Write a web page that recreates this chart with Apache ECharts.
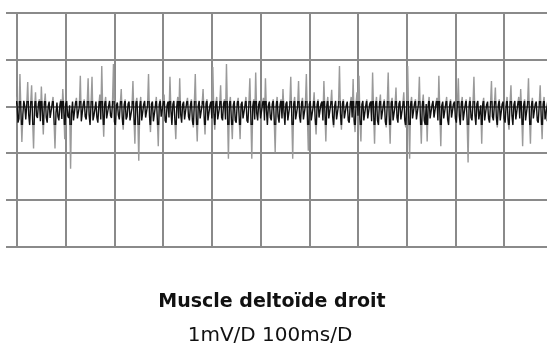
<!DOCTYPE html>
<html>
<head>
<meta charset="utf-8">
<script src="https://cdn.jsdelivr.net/npm/echarts@6/dist/echarts.min.js"></script>
<style>
  html, body { margin: 0; padding: 0; background: #fff; }
  #chart { width: 547px; height: 347px; }
</style>
</head>
<body>
<div id="chart"></div>
<script>
// EMG trace, mV, one sample every 2 ms starting 22 ms before the first division
const startMs = -22
const stepMs = 2
const emg = [
  0.10, -0.05, 0.42, -0.22, -0.69, 0.03, 0.15, -0.30, -0.30, -0.12, 0.20, 0.06, -0.35, -0.26, 0.69, -0.08, -0.76, -0.18, 0.12, 0.00,
  -0.28, 0.02, 0.52, -0.18, -0.40, 0.04, 0.45, -0.28, -0.90, -0.06, 0.30, -0.20, -0.25, 0.05, 0.15, -0.32, 0.42, -0.10, -0.60, 0.04,
  0.27, -0.24, -0.35, 0.00, 0.10, -0.25, -0.28, 0.04, 0.20, -0.30, -0.90, -0.14, 0.08, -0.22, -0.30, 0.02, 0.15, -0.27, 0.37, -0.06,
  -0.70, 0.05, 0.12, -0.20, -0.25, 0.02, -1.33, -0.15, 0.10, -0.30, -0.30, 0.06, 0.18, -0.26, -0.22, 0.00, 0.65, -0.32, -0.35, 0.04,
  0.15, -0.22, -0.28, 0.03, 0.60, -0.18, -0.40, 0.05, 0.63, -0.30, -0.20, -0.05, 0.10, -0.24, -0.35, 0.02, 0.25, -0.28, 0.86, -0.10,
  -0.65, 0.04, 0.20, -0.26, -0.30, 0.00, 0.12, -0.20, -0.25, 0.06, 0.90, -0.32, -0.45, 0.02, 0.08, -0.18, -0.28, 0.05, 0.37, -0.24,
  -0.50, 0.03, 0.15, -0.28, -0.22, 0.05, 0.10, -0.30, -0.30, -0.04, 0.54, -0.22, -0.80, 0.06, 0.18, -0.26, -1.16, 0.00, 0.20, -0.30,
  -0.30, 0.04, 0.12, -0.24, -0.25, 0.02, 0.69, -0.20, -0.55, 0.05, 0.10, -0.32, -0.28, 0.00, 0.20, -0.26, -0.85, 0.03, 0.15, -0.22,
  -0.22, 0.05, 0.25, -0.30, -0.35, 0.02, 0.10, -0.24, 0.63, -0.10, -0.40, 0.04, 0.12, -0.28, -0.70, 0.00, 0.20, -0.26, 0.60, -0.18,
  -0.35, 0.04, 0.10, -0.28, -0.25, 0.06, 0.18, -0.22, -0.30, 0.02, 0.15, -0.30, -0.45, 0.05, 0.69, -0.24, -0.75, 0.00, 0.12, -0.26,
  -0.28, 0.03, 0.37, -0.20, -0.60, 0.05, 0.15, -0.30, -0.30, 0.02, 0.10, -0.26, 0.84, -0.12, -0.50, 0.04, 0.20, -0.28, -0.25, 0.00,
  0.45, -0.24, -0.30, 0.05, 0.15, -0.28, 0.90, -0.10, -1.12, 0.03, 0.20, -0.26, -0.70, 0.02, 0.12, -0.30, -0.35, 0.06, 0.18, -0.22,
  -0.70, 0.04, 0.10, -0.26, -0.28, 0.02, 0.20, -0.30, -0.35, 0.05, 0.60, -0.20, -1.12, 0.00, 0.15, -0.28, 0.72, -0.14, -0.30, 0.03,
  0.12, -0.26, -0.25, 0.05, 0.18, -0.30, 0.60, -0.08, -0.40, 0.02, 0.10, -0.24, -0.30, 0.04, 0.15, -0.28, -0.98, 0.00, 0.20, -0.22,
  -0.35, 0.03, 0.15, -0.26, 0.37, -0.12, -0.40, 0.05, 0.10, -0.30, -0.28, 0.02, 0.63, -0.20, -1.12, 0.04, 0.20, -0.28, -0.30, 0.00,
  0.54, -0.22, -0.35, 0.05, 0.18, -0.28, -0.25, 0.02, 0.69, -0.18, -0.95, 0.04, 0.12, -0.30, -0.30, 0.00, 0.30, -0.26, -0.60, 0.03,
  0.15, -0.24, -0.28, 0.05, 0.10, -0.30, 0.54, -0.10, -0.75, 0.02, 0.20, -0.26, -0.30, 0.04, 0.35, -0.22, -0.45, 0.00, 0.12, -0.28,
  -0.30, 0.03, 0.86, -0.16, -0.50, 0.05, 0.15, -0.26, -0.25, 0.02, 0.10, -0.30, -0.35, 0.04, 0.20, -0.24, 0.58, -0.30, -0.55, 0.06,
  0.30, -0.20, 0.65, -0.28, -0.75, 0.04, 0.12, -0.30, -0.30, 0.02, 0.15, -0.26, -0.28, 0.05, 0.10, -0.32, 0.72, -0.12, -0.80, 0.03,
  0.20, -0.30, -0.40, 0.05, 0.25, -0.28, -0.30, 0.02, 0.15, -0.32, -0.45, 0.04, 0.72, -0.20, -0.80, 0.06, 0.18, -0.30, -0.30, 0.00,
  0.40, -0.24, -0.35, 0.05, 0.12, -0.28, -0.25, 0.02, 0.30, -0.30, -0.45, 0.04, 0.86, -0.18, -1.12, 0.03, 0.20, -0.26, -0.30, 0.05,
  0.15, -0.28, -0.28, 0.04, 0.63, -0.22, -0.80, 0.02, 0.25, -0.30, -0.40, 0.05, -0.75, 0.00, 0.20, -0.26, -0.30, 0.03, 0.12, -0.24,
  -0.25, 0.05, 0.18, -0.30, 0.65, -0.14, -0.85, 0.02, 0.10, -0.26, -0.30, 0.04, 0.20, -0.28, -0.40, 0.00, 0.15, -0.24, -0.28, 0.05,
  0.10, -0.26, -0.35, 0.03, 0.60, -0.20, -0.40, 0.05, 0.20, -0.30, -0.30, 0.02, 0.15, -0.28, -1.20, 0.00, 0.20, -0.24, -0.30, 0.04,
  0.63, -0.18, -0.40, 0.05, 0.12, -0.28, -0.25, 0.02, -0.80, 0.04, 0.18, -0.30, -0.30, 0.03, 0.10, -0.26, -0.35, 0.05, 0.54, -0.22,
  -0.30, 0.04, 0.40, -0.24, -0.45, 0.02, 0.15, -0.30, -0.28, 0.05, 0.10, -0.26, -0.35, 0.00, 0.20, -0.28, -0.50, 0.04, 0.45, -0.20,
  -0.40, 0.03, 0.12, -0.28, -0.30, 0.05, 0.20, -0.26, 0.37, -0.14, -0.85, 0.02, 0.15, -0.30, -0.30, 0.04, 0.60, -0.22, -0.80, 0.00,
  0.18, -0.26, -0.25, 0.05, 0.10, -0.30, -0.35, 0.02, 0.45, -0.20, -0.70, 0.04, 0.20, -0.28, -0.30, 0.00, 0.15, -0.24, -0.28, 0.03
]

const title = 'Muscle deltoïde droit'
const scaleText = '1mV/D 100ms/D'

const gridColor = '#8a8a8a'

const chart = echarts.init(document.getElementById('chart'))

chart.setOption({
  animation: false,
  backgroundColor: '#fff',
  grid: { left: 17, right: 0, top: 12.5, bottom: 100 },
  xAxis: {
    type: 'value',
    min: 0,
    max: 1088,
    interval: 100,
    axisLine: { show: false },
    axisLabel: { show: false },
    axisTick: { show: true, length: 15, lineStyle: { color: gridColor, width: 2 } },
    splitLine: { show: true, showMaxLine: false, lineStyle: { color: gridColor, width: 2 } }
  },
  yAxis: {
    type: 'value',
    min: -3,
    max: 2,
    interval: 1,
    axisLine: { show: false },
    axisLabel: { show: false },
    axisTick: { show: true, length: 11, lineStyle: { color: gridColor, width: 2 } },
    splitLine: { show: true, lineStyle: { color: gridColor, width: 2 } }
  },
  // dark dense core, lighter isolated spikes
  visualMap: {
    show: false,
    type: 'piecewise',
    dimension: 1,
    pieces: [
      { lt: -0.4, color: '#9a9a9a' },
      { gte: -0.4, lte: 0.12, color: '#111' },
      { gt: 0.12, color: '#9a9a9a' }
    ]
  },
  series: [{
    type: 'line',
    clip: false,
    symbol: 'none',
    lineStyle: { width: 1.4 },
    data: emg.map((v, i) => [startMs + i * stepMs, v])
  }],
  graphic: [
    {
      type: 'text',
      style: {
        x: 272, y: 302, text: title,
        font: 'bold 19px "DejaVu Sans"', fill: '#111',
        textAlign: 'center', textVerticalAlign: 'middle'
      }
    },
    {
      type: 'text',
      style: {
        x: 270, y: 336, text: scaleText,
        font: '20px "DejaVu Sans"', fill: '#111',
        textAlign: 'center', textVerticalAlign: 'middle'
      }
    }
  ]
})
</script>
</body>
</html>
